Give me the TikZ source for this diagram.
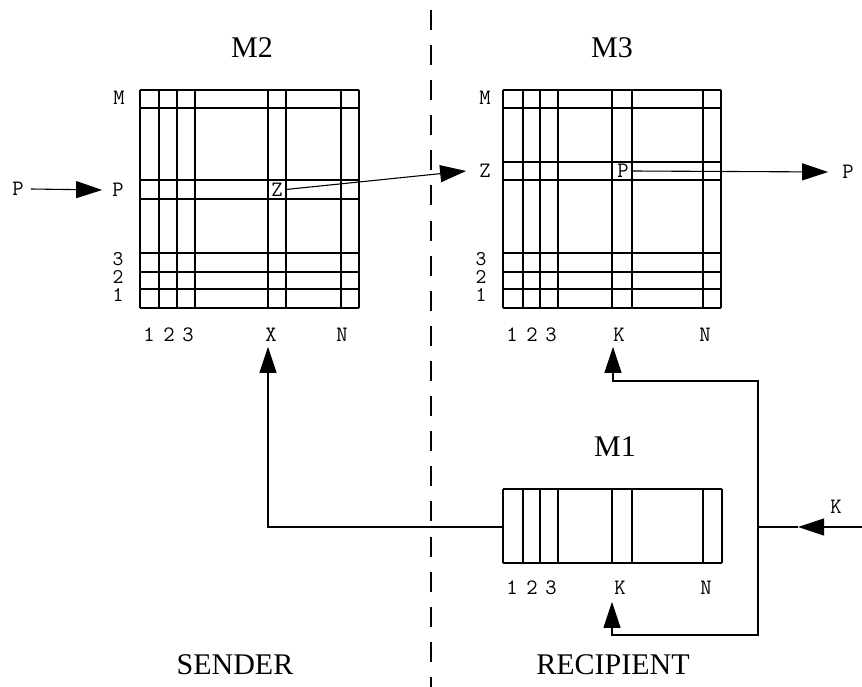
\documentclass[tikz,border=0pt]{standalone}
\usepackage{fontspec}
\setmainfont{Liberation Serif}
\usetikzlibrary{arrows.meta}
\begin{document}
\begin{tikzpicture}[x=1pt,y=-1pt,
  gridline/.style={line width=1.1pt},
  lbl/.style={font=\fontsize{22}{22}\selectfont\ttfamily, inner sep=0pt},
  rowlbl/.style={font=\fontsize{21}{21}\selectfont\ttfamily, inner sep=0pt},
  ttl/.style={font=\fontsize{30}{30}\selectfont, inner sep=0pt},
  conn/.style={line width=1.1pt},
  arr/.style={conn,-{Triangle[length=26pt,width=17pt]}},
  sep/.style={line width=1.3pt, dash pattern=on 20pt off 15.1pt}]
\useasboundingbox (0,0) rectangle (862,687);

% separator
\coordinate (sepTop) at (431,10);
\coordinate (sepBot) at (431,687);
\draw[sep] (sepTop) -- (sepBot);

% titles
\node[ttl] (t2) at (252,48) {M2};
\node[ttl] (t3) at (612,48) {M3};
\node[ttl] (t1) at (615,447) {M1};
\node[ttl] (snd) at (235,665) {SENDER};
\node[ttl] (rcp) at (613,665) {RECIPIENT};

% M2 grid
\foreach \x in {140,159,177,195,268,286,341,359} \draw[gridline] (\x,90) -- (\x,308);
\foreach \y in {90,108,180,199,253,272,289,308} \draw[gridline] (140,\y) -- (359,\y);
% M3 grid
\foreach \x in {503,523,540,558,612,632,703,721} \draw[gridline] (\x,90) -- (\x,308);
\foreach \y in {90,108,162,180,253,272,289,308} \draw[gridline] (503,\y) -- (721,\y);
% M1 strip
\foreach \x in {503,523,540,558,612,632,703,722} \draw[gridline] (\x,489) -- (\x,563);
\foreach \y in {489,563} \draw[gridline] (503,\y) -- (722,\y);

% M2 row labels
\node[lbl] (m2M) at (119,98) {M};
\node[lbl] (m2P) at (118,190) {P};
\node[rowlbl] (m2r3) at (118,259) {3};
\node[rowlbl] (m2r2) at (118,277) {2};
\node[rowlbl] (m2r1) at (118,295) {1};
% M2 column labels
\node[lbl] (m2c1) at (149,335) {1};
\node[lbl] (m2c2) at (169,335) {2};
\node[lbl] (m2c3) at (188,335) {3};
\node[lbl] (m2X) at (271,335) {X};
\node[lbl] (m2N) at (342,335) {N};

% M3 row labels
\node[lbl] (m3M) at (485,98) {M};
\node[lbl] (m3Z) at (485,171) {Z};
\node[rowlbl] (m3r3) at (481,259) {3};
\node[rowlbl] (m3r2) at (481,277) {2};
\node[rowlbl] (m3r1) at (481,295) {1};
% M3 column labels
\node[lbl] (m3c1) at (512,335) {1};
\node[lbl] (m3c2) at (532,335) {2};
\node[lbl] (m3c3) at (551,335) {3};
\node[lbl] (m3K) at (619,335) {K};
\node[lbl] (m3N) at (705,335) {N};

% M1 column labels
\node[lbl] (m1c1) at (512,588) {1};
\node[lbl] (m1c2) at (532,588) {2};
\node[lbl] (m1c3) at (551,588) {3};
\node[lbl] (m1K) at (620,588) {K};
\node[lbl] (m1N) at (706,588) {N};

% cell labels
\node[lbl] (z2) at (277,189.5) {Z};
\node[lbl] (p3) at (623,171) {P};

% outer labels
\node[lbl] (pin) at (18,189) {P};
\node[lbl] (pout) at (848,172) {P};
\node[lbl] (kin) at (836,507) {K};

% connectors
\draw[arr] ([xshift=7pt]pin.east) -- ([xshift=-10pt]m2P.west);
\draw[arr] ([xshift=3pt]z2.east) -- ([xshift=-13pt]m3Z.west);
\draw[arr] ([xshift=3pt]p3.east) -- ([xshift=-14pt]pout.west);

\coordinate (m1w) at (503,527);
\draw[arr] (m1w) -| ([yshift=-5pt,xshift=-3pt]m2X.south);

\coordinate (kedge) at (862,527);
\coordinate (ktip) at (798,527);
\coordinate (j) at (758,527);
\coordinate (jtop) at (758,381);
\coordinate (jbot) at (758,635);
\draw[arr] (kedge) -- (ktip);
\draw[conn] (ktip) -- (j);
\draw[arr] (j) -- (jtop) -| ([yshift=-5pt,xshift=-6pt]m3K.south);
\draw[arr] (j) -- (jbot) -| ([yshift=-7pt,xshift=-8pt]m1K.south);
\end{tikzpicture}
\end{document}
